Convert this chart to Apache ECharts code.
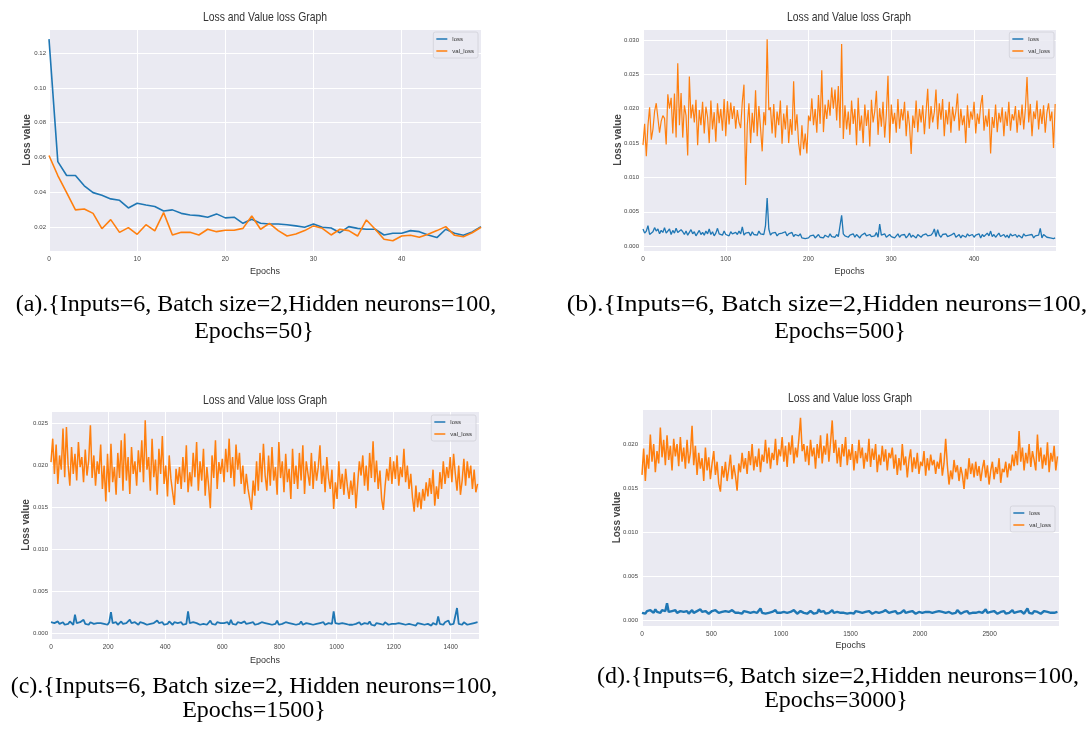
<!DOCTYPE html>
<html>
<head>
<meta charset="utf-8">
<script src="https://cdn.jsdelivr.net/npm/echarts@6/dist/echarts.min.js"></script>
<style>
html, body { margin: 0; padding: 0; background: #fff; }
#main { width: 1091px; height: 735px; }
</style>
</head>
<body>
<div id="main"></div>
<script>
// (a) 50 epochs, read per epoch
var aLoss = [0.128,0.0577,0.0497,0.0497,0.0438,0.0399,0.0384,0.0363,0.0355,0.0311,
  0.0338,0.0328,0.0319,0.0294,0.0300,0.0280,0.0271,0.0267,0.0258,0.0277,
  0.0254,0.0258,0.0223,0.0246,0.0223,0.0219,0.0219,0.0215,0.0208,0.0200,
  0.0219,0.0200,0.0196,0.0169,0.0204,0.0194,0.0189,0.0189,0.0156,0.0166,
  0.0166,0.0181,0.0175,0.0156,0.0141,0.0189,0.0166,0.0154,0.0173,0.0204];
var aValLoss = [0.0612,0.0497,0.0399,0.0300,0.0305,0.0280,0.0192,0.0244,0.0171,0.0198,
  0.0160,0.0215,0.0179,0.0284,0.0156,0.0171,0.0171,0.0156,0.0189,0.0175,
  0.0183,0.0183,0.0194,0.0265,0.0189,0.0223,0.0181,0.0150,0.0162,0.0181,
  0.0208,0.0194,0.0156,0.0189,0.0181,0.0150,0.0242,0.0189,0.0131,0.0123,
  0.0150,0.0154,0.0143,0.0160,0.0181,0.0204,0.0154,0.0146,0.0169,0.0200];

// (b)-(d): values in units of 1e-4, read every bStep / cStep / dStep epochs
var unit = 1e-4;
var bStep = 2, cStep = 6, dStep = 12;

var bValLoss = [147,178,131,176,202,155,170,196,208,207,165,182,190,186,148,221,200,216,164,222,158,266,176,223,158,
  205,190,132,247,186,206,180,213,147,198,176,210,164,203,188,150,212,170,195,152,208,179,200,168,214,
  160,211,177,209,185,204,171,198,180,172,210,235,89,176,208,150,194,165,227,160,204,172,138,195,176,
  301,198,202,164,207,158,196,176,212,149,193,170,205,150,185,162,240,168,192,150,132,176,141,164,135,
  190,182,215,176,200,165,220,178,256,166,206,185,213,190,231,200,228,183,233,172,294,156,205,170,196,
  162,212,178,200,147,216,168,190,150,206,175,198,145,213,180,196,226,162,201,174,210,158,192,248,150,
  206,178,194,165,214,171,200,183,210,160,197,176,134,190,172,212,166,200,180,205,163,196,229,171,204,
  180,195,228,170,208,184,214,160,198,177,210,165,203,182,196,222,168,200,176,190,150,205,172,196,184,
  210,164,193,178,205,220,168,190,174,200,135,188,172,206,166,194,180,202,160,196,175,210,168,192,183,
  204,165,198,176,206,170,200,246,180,207,160,196,185,212,170,200,178,205,165,194,208,182,196,143,207];
var bLoss = [25,19,22,30,17,16,21,27,22,25,18,23,20,27,19,21,25,17,23,19,26,20,18,24,21,
  17,22,16,20,24,18,21,15,19,23,17,20,16,22,18,25,17,21,15,19,26,18,20,16,22,
  17,19,15,21,18,16,20,17,22,18,28,16,19,20,20,15,21,17,19,16,22,18,20,17,30,
  70,25,16,19,17,20,15,18,16,19,17,21,15,18,16,20,14,17,19,15,18,12,14,11,13,
  12,15,13,16,12,14,17,13,15,12,16,14,13,18,14,15,13,17,14,16,45,18,15,16,13,
  16,14,18,13,17,15,12,16,14,19,15,13,17,14,16,15,20,13,32,16,14,18,13,15,17,
  14,16,12,15,18,13,16,14,17,12,15,19,13,16,14,12,17,15,13,16,14,18,15,13,16,
  19,25,14,24,16,13,17,15,18,14,12,16,15,19,13,15,17,12,16,14,13,18,15,14,17,
  13,16,15,18,12,17,14,16,19,15,22,14,17,13,16,19,14,15,17,13,16,12,18,15,14,
  17,13,16,14,12,18,15,13,16,14,17,12,15,13,16,26,12,17,15,13,14,12,13,11,12];

var cValLoss = [204,232,190,225,178,212,195,244,186,246,200,176,222,190,214,182,228,198,210,180,219,188,206,248,185,
  212,176,205,190,225,172,200,157,214,168,226,180,198,165,215,185,230,170,238,182,210,166,222,190,205,
  176,218,192,230,180,254,195,210,170,232,186,207,165,220,190,235,178,200,163,212,184,168,153,196,178,
  198,172,210,180,224,168,192,175,215,186,228,170,205,182,220,164,198,176,149,212,185,230,172,204,190,
  208,180,220,192,232,185,210,175,225,195,215,178,200,166,190,172,160,147,182,164,205,170,215,180,226,
  188,170,212,176,222,182,198,165,228,185,205,168,214,180,196,160,220,178,200,172,215,182,224,166,205,
  190,176,215,172,205,182,198,224,178,200,168,210,185,172,195,148,180,160,205,172,190,165,196,175,160,
  182,165,192,149,178,205,188,212,176,200,170,215,185,229,180,206,172,194,160,147,175,196,182,210,178,
  205,184,212,176,198,186,220,180,200,172,190,162,145,176,150,168,148,172,158,180,163,185,166,195,152,
  175,160,192,172,205,178,198,185,210,180,214,190,170,200,165,182,208,176,205,185,200,172,195,168,178];
var cLoss = [13,11,12,10,14,11,12,13,10,12,11,14,12,10,22,12,11,13,12,16,11,12,10,13,12,
  11,13,12,10,12,14,11,12,10,13,25,12,11,13,10,12,14,11,13,12,10,16,12,11,13,
  12,10,13,11,12,14,10,12,11,13,12,10,15,12,11,13,10,12,11,14,12,10,13,11,12,
  11,13,10,12,11,26,12,10,13,11,12,14,10,12,11,13,10,12,15,11,12,10,13,11,12,
  10,12,11,13,10,16,11,12,10,13,11,12,10,14,11,10,12,11,13,10,12,11,10,13,11,
  12,10,11,13,10,12,11,15,10,12,11,10,13,11,12,10,11,13,10,12,11,14,10,11,12,
  10,11,13,10,12,11,10,12,11,13,10,11,12,10,11,26,12,10,11,9,12,10,11,13,10,
  11,10,12,11,9,13,10,11,12,10,11,14,10,11,9,12,10,11,12,10,13,11,10,12,11,
  10,11,9,12,10,11,13,10,9,11,12,10,11,9,12,10,11,13,10,12,11,10,9,12,11,
  10,20,11,12,10,13,11,15,10,12,11,9,30,11,12,10,13,11,10,12,11,9,12,10,13];

var dValLoss = [165,195,158,188,172,211,180,200,168,192,178,219,185,205,176,210,182,198,170,206,186,200,175,208,180,
  196,172,205,178,190,221,176,198,165,190,172,184,158,196,170,185,160,178,192,165,180,155,146,175,162,
  180,158,172,188,160,176,164,147,178,168,190,172,184,166,192,176,200,170,186,174,195,168,188,180,205,
  178,196,172,190,182,206,176,194,186,208,180,198,174,202,188,210,178,196,185,206,230,192,200,180,198,
  176,205,186,196,172,200,184,210,178,198,188,212,180,202,227,190,205,178,196,174,200,186,208,176,194,
  182,200,170,192,178,205,184,196,172,190,180,206,174,195,182,200,168,188,176,198,180,194,170,190,184,
  196,172,188,165,184,170,200,176,186,162,182,194,168,185,172,190,166,180,175,192,164,184,170,188,176,
  182,166,180,172,190,164,178,206,176,154,170,160,182,168,176,158,174,165,149,172,160,184,166,178,162,
  180,164,175,158,172,182,162,176,154,170,180,160,174,166,184,156,172,168,180,162,178,170,188,175,192,
  176,215,180,196,170,190,178,200,174,192,182,170,211,180,196,172,188,176,202,168,190,180,198,170,186];
var dLoss = [8,9,7,10,8,11,9,8,12,9,10,8,11,9,10,19,9,8,10,9,11,8,9,10,8,
  9,8,10,7,9,11,8,9,10,8,12,9,8,10,9,7,9,10,8,11,9,8,10,9,8,
  10,8,9,7,11,9,8,10,8,9,7,10,8,9,11,8,7,9,10,8,9,13,8,9,7,
  9,8,10,9,7,11,8,9,8,10,9,7,8,10,9,8,11,9,7,8,10,9,8,9,7,
  8,10,9,7,9,8,12,9,8,10,7,9,8,9,11,8,7,9,10,8,9,8,10,7,9,
  8,9,7,10,8,9,11,8,7,9,8,10,9,7,8,9,10,8,7,9,8,11,9,8,7,
  9,8,10,7,9,8,9,11,8,7,9,8,10,9,7,8,9,10,8,7,9,8,9,10,8,
  7,9,8,10,8,9,7,8,10,9,8,7,9,8,11,9,7,8,9,8,10,7,9,8,9,
  8,7,9,10,8,9,12,8,7,9,8,10,9,7,8,9,8,10,7,9,8,9,11,8,7,
  9,8,10,8,7,9,13,8,9,7,10,8,9,8,7,9,10,8,9,7,8,9,8,10,9];

var chartTitle = 'Loss and Value loss Graph';
var seriesNames = ['loss', 'val_loss'];
var captions = [
  ['(a).{Inputs=6, Batch size=2,Hidden neurons=100,', 'Epochs=50}'],
  ['(b).{Inputs=6, Batch size=2,Hidden neurons=100,', 'Epochs=500}'],
  ['(c).{Inputs=6, Batch size=2, Hidden neurons=100,', 'Epochs=1500}'],
  ['(d).{Inputs=6, Batch size=2,Hidden neurons=100,', 'Epochs=3000}']
];

function epochPairs(values, step, scale) {
  return values.map(function (v, i) { return [i * step, v * scale]; });
}

var sans = '"Liberation Sans", Arial, sans-serif';
var serif = '"Liberation Serif", "Times New Roman", serif';
var blue = '#1f77b4', orange = '#ff7f0e';

var panels = [
  { loss: epochPairs(aLoss, 1, 1), val: epochPairs(aValLoss, 1, 1), xMax: 49, xInt: 10,
    yMin: 0.0064, yMax: 0.1338, yInt: 0.02, dec: 2, lw: [1.6, 1.6],
    grid: { left: 49, top: 29, width: 432, height: 222 }, legend: { right: 613, top: 32 },
    title: [265, 17], cap: [[256, 305], [254, 332]], capScale: 1, yGap: 17, xGap: 16, labelMargin: 3 },
  { loss: epochPairs(bLoss, bStep, unit), val: epochPairs(bValLoss, bStep, unit), xMax: 499, xInt: 100,
    yMin: -0.0007, yMax: 0.0316, yInt: 0.005, dec: 3, lw: [1.3, 1.2],
    grid: { left: 643, top: 29, width: 413, height: 222 }, legend: { right: 37, top: 32 },
    title: [849, 17], cap: [[827, 305], [840, 332]], capScale: 1.08, yGap: 20, xGap: 16, labelMargin: 4 },
  { loss: epochPairs(cLoss, cStep, unit), val: epochPairs(cValLoss, cStep, unit), xMax: 1499, xInt: 200,
    yMin: -0.0007, yMax: 0.0265, yInt: 0.005, dec: 3, lw: [1.8, 1.5],
    grid: { left: 51, top: 411, width: 428, height: 228 }, legend: { right: 615, top: 415 },
    title: [265, 400], cap: [[254, 687], [254, 711]], capScale: 1, yGap: 20, xGap: 17, labelMargin: 3 },
  { loss: epochPairs(dLoss, dStep, unit), val: epochPairs(dValLoss, dStep, unit), xMax: 2999, xInt: 500,
    yMin: -0.0007, yMax: 0.0240, yInt: 0.005, dec: 3, lw: [2.4, 1.5],
    grid: { left: 642, top: 409, width: 417, height: 217 }, legend: { right: 36, top: 506 },
    title: [850, 398], cap: [[838, 677], [836, 701]], capScale: 1, yGap: 20, xGap: 15, labelMargin: 4 }
];

var option = {
  backgroundColor: '#fff',
  animation: false,
  grid: [], xAxis: [], yAxis: [], series: [], legend: [], graphic: []
};

panels.forEach(function (p, i) {
  option.grid.push({
    left: p.grid.left, top: p.grid.top, width: p.grid.width, height: p.grid.height,
    show: true, backgroundColor: '#eaeaf2', borderWidth: 0
  });
  option.xAxis.push({
    type: 'value', gridIndex: i, min: 0, max: p.xMax,
    minInterval: p.xInt, maxInterval: p.xInt,
    axisLine: { show: false }, axisTick: { show: false },
    splitLine: { show: true, lineStyle: { color: '#ffffff', width: 1 } },
    axisLabel: { fontSize: 6.5, color: '#444', fontFamily: sans, margin: 5,
      showMinLabel: true, showMaxLabel: false,
      formatter: function (v) { return String(v); } },
    name: 'Epochs', nameLocation: 'middle', nameGap: p.xGap, nameMoveOverlap: false,
    nameTextStyle: { fontSize: 9, color: '#333', fontFamily: sans }
  });
  option.yAxis.push({
    type: 'value', gridIndex: i, min: p.yMin, max: p.yMax,
    minInterval: p.yInt, maxInterval: p.yInt,
    axisLine: { show: false }, axisTick: { show: false },
    splitLine: { show: true, lineStyle: { color: '#ffffff', width: 1 } },
    axisLabel: { fontSize: 6, color: '#444', fontFamily: sans, margin: p.labelMargin,
      showMinLabel: false, showMaxLabel: false,
      formatter: (function (d) { return function (v) { return v.toFixed(d); }; })(p.dec) },
    name: 'Loss value', nameLocation: 'middle', nameGap: p.yGap, nameMoveOverlap: false,
    nameTextStyle: { fontSize: 10, fontWeight: 'bold', color: '#444', fontFamily: sans }
  });
  option.series.push({
    type: 'line', name: seriesNames[0], xAxisIndex: i, yAxisIndex: i, data: p.loss,
    symbol: 'none', showSymbol: false, lineStyle: { color: blue, width: p.lw[0] },
    itemStyle: { color: blue }
  });
  option.series.push({
    type: 'line', name: seriesNames[1], xAxisIndex: i, yAxisIndex: i, data: p.val,
    symbol: 'none', showSymbol: false, lineStyle: { color: orange, width: p.lw[1] },
    itemStyle: { color: orange }
  });
  option.legend.push({
    data: seriesNames, orient: 'vertical', right: p.legend.right, top: p.legend.top,
    icon: 'rect', itemWidth: 11, itemHeight: 1.5, itemGap: 4,
    padding: [3, 4, 3, 3], backgroundColor: 'rgba(234,234,242,0.85)',
    borderColor: '#d0d0d8', borderWidth: 0.8, borderRadius: 2, selectedMode: false,
    textStyle: { fontSize: 6, lineHeight: 8, color: '#333', fontFamily: sans }
  });
  option.graphic.push({
    type: 'text', x: p.title[0], y: p.title[1], scaleX: 0.8,
    style: { text: chartTitle, font: '13px ' + sans, fill: '#333',
      textAlign: 'center', textVerticalAlign: 'middle', align: 'center', verticalAlign: 'middle' }
  });
  captions[i].forEach(function (line, k) {
    option.graphic.push({
      type: 'text', x: p.cap[k][0], y: p.cap[k][1], scaleX: k === 0 ? p.capScale : 1,
      style: { text: line, font: '24px ' + serif, fill: '#000',
        textAlign: 'center', textVerticalAlign: 'middle', align: 'center', verticalAlign: 'middle' }
    });
  });
});

var myChart = echarts.init(document.getElementById('main'));
myChart.setOption(option);
</script>
</body>
</html>
